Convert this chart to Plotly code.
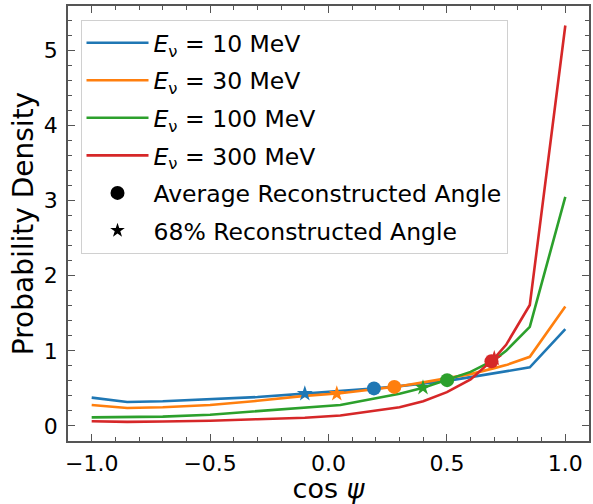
import plotly.graph_objects as go

cos_psi = [-1.0, -0.85, -0.7, -0.5, -0.3, -0.1, 0.05, 0.2, 0.3, 0.4, 0.5, 0.6, 0.7, 0.75, 0.85, 1.0]
pdf_10 = [0.377, 0.32, 0.33, 0.355, 0.385, 0.43, 0.46, 0.50, 0.53, 0.56, 0.60, 0.65, 0.70, 0.73, 0.78, 1.29]
pdf_30 = [0.28, 0.24, 0.25, 0.28, 0.335, 0.40, 0.435, 0.49, 0.53, 0.58, 0.63, 0.69, 0.77, 0.81, 0.92, 1.59]
pdf_100 = [0.115, 0.115, 0.125, 0.15, 0.195, 0.24, 0.28, 0.37, 0.43, 0.51, 0.61, 0.72, 0.88, 1.0, 1.32, 3.05]
pdf_300 = [0.062, 0.055, 0.06, 0.07, 0.09, 0.11, 0.14, 0.20, 0.25, 0.33, 0.45, 0.62, 0.90, 1.08, 1.61, 5.33]

labels = ["10", "30", "100", "300"]
colors = ["#1f77b4", "#ff7f0e", "#2ca02c", "#d62728"]
series = [pdf_10, pdf_30, pdf_100, pdf_300]

avg_cos = [0.192, 0.278, 0.501, 0.688]
avg_pdf = [0.50, 0.52, 0.61, 0.86]
p68_cos = [-0.10, 0.035, 0.399, 0.70]
p68_pdf = [0.43, 0.43, 0.51, 0.90]

FONT = "DejaVu Sans"
fig = go.Figure()

for i, (lab, col, ys) in enumerate(zip(labels, colors, series)):
    fig.add_trace(go.Scatter(
        x=cos_psi, y=ys, mode="lines",
        line=dict(color=col, width=2.6),
        name=f"<i>E</i><sub>ν</sub> = {lab} MeV",
        legendgroup=f"g{i}",
    ))

for i, col in enumerate(colors):
    fig.add_trace(go.Scatter(
        x=[p68_cos[i]], y=[p68_pdf[i]], mode="markers",
        marker=dict(symbol="star", size=12, color=col, line=dict(width=0)),
        showlegend=False,
    ))
for i, col in enumerate(colors):
    fig.add_trace(go.Scatter(
        x=[avg_cos[i]], y=[avg_pdf[i]], mode="markers",
        marker=dict(symbol="circle", size=14, color=col, line=dict(width=0)),
        showlegend=False,
    ))

fig.add_trace(go.Scatter(
    x=[None], y=[None], mode="markers",
    marker=dict(symbol="circle", size=14, color="black"),
    name="Average Reconstructed Angle", legendgroup="g4",
))
fig.add_trace(go.Scatter(
    x=[None], y=[None], mode="markers",
    marker=dict(symbol="star", size=11, color="black"),
    name="68% Reconstructed Angle", legendgroup="g5",
))

axis_common = dict(
    showgrid=False, zeroline=False, automargin=False,
    showline=True, linecolor="#555555", linewidth=1.5, mirror="allticks",
    ticks="inside", ticklen=7, tickwidth=1.3, tickcolor="#555555",
    tickfont=dict(family=FONT, size=22, color="black"),
)

fig.update_xaxes(
    range=[-1.1, 1.1], dtick=0.5, tick0=0, tickformat=".1f",
    ticklabelstandoff=2,
    minor=dict(ticks="inside", dtick=0.1, ticklen=4, tickcolor="#555555", tickwidth=1),
    title=dict(text="cos <i>ψ</i>", font=dict(family=FONT, size=27, color="black"), standoff=6),
    **axis_common,
)
fig.update_yaxes(
    range=[-0.2, 5.59], dtick=1, tick0=0,
    ticklabelstandoff=4,
    minor=dict(ticks="inside", dtick=0.2, ticklen=4, tickcolor="#555555", tickwidth=1),
    title=dict(text="Probability Density", font=dict(family=FONT, size=28, color="black"), standoff=2),
    **axis_common,
)

fig.update_layout(
    width=593, height=504,
    margin=dict(l=68, r=4, t=6, b=63),
    paper_bgcolor="white", plot_bgcolor="white",
    font=dict(family=FONT, color="black"),
    legend=dict(
        x=0.024, y=0.968, xanchor="left", yanchor="top",
        bgcolor="rgba(255,255,255,0.8)", bordercolor="#d0d0d0", borderwidth=1,
        font=dict(family=FONT, size=23.5, color="black"),
        traceorder="grouped", tracegroupgap=4, itemwidth=62,
    ),
)

fig.write_html(
    "out.html",
    config={"displayModeBar": False},
    post_script="document.body.style.margin='0';document.body.style.padding='0';",
)
